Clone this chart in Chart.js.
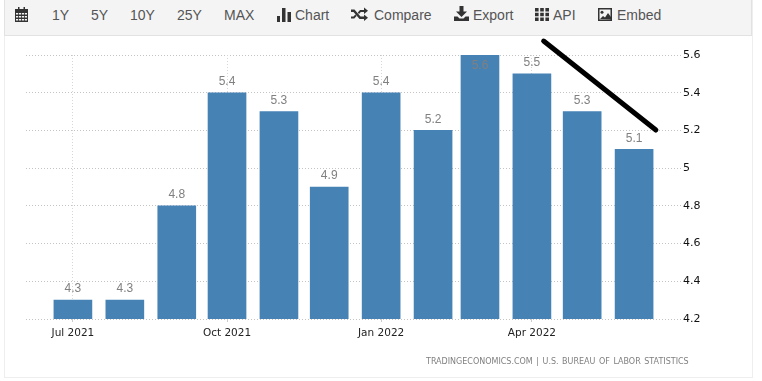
<!DOCTYPE html>
<html><head><meta charset="utf-8">
<script src="https://cdn.jsdelivr.net/npm/chart.js@4"></script>
<style>
html,body{margin:0;padding:0;background:#fff;width:762px;height:381px;overflow:hidden}
#frame{position:absolute;left:4px;top:-2px;width:747px;height:378px;border:1px solid #eee;box-sizing:content-box}
#bar{position:absolute;left:4px;top:0;width:748px;height:36px;background:#f4f4f4;border:1px solid #e2e2e2;border-top:0;box-sizing:border-box}
.t{position:absolute;top:7px;font:14px/16px "Liberation Sans",sans-serif;color:#555;white-space:nowrap}
svg.i{position:absolute;fill:#333}
#c{position:absolute;left:0;top:0}
#src{position:absolute;left:426px;top:356px;font:8px/12px "DejaVu Sans",sans-serif;color:#808080;letter-spacing:0;word-spacing:1px;white-space:nowrap}
</style></head><body>
<div id="frame"></div>
<canvas id="c" width="762" height="381"></canvas>
<div id="bar"></div>
<span class="t" style="left:52px">1Y</span>
<span class="t" style="left:91px">5Y</span>
<span class="t" style="left:130px">10Y</span>
<span class="t" style="left:177px">25Y</span>
<span class="t" style="left:224px">MAX</span>
<span class="t" style="left:295px">Chart</span>
<span class="t" style="left:374px">Compare</span>
<span class="t" style="left:473px">Export</span>
<span class="t" style="left:553px">API</span>
<span class="t" style="left:617px">Embed</span>
<svg class="i" style="left:15px;top:7px" width="13" height="15" viewBox="0 0 13 15"><path d="M0 2h13v13H0z"/><path d="M3 0h1.500v3H3zM8.500 0H10v3H8.500z"/><g fill="#f4f4f4"><path d="M1 6h2.200v1.600H1zM4 6h2.200v1.600H4zM7 6h2.200v1.600H7zM10 6h2v1.600h-2zM1 9h2.200v1.600H1zM4 9h2.200v1.600H4zM7 9h2.200v1.600H7zM10 9h2v1.600h-2zM1 12h2.200v1.600H1zM4 12h2.200v1.600H4zM7 12h2.200v1.600H7zM10 12h2v1.600h-2z"/></g></svg>
<svg class="i" style="left:277px;top:7px" width="14" height="15" viewBox="0 0 14 15"><path d="M0 9h3v6H0zM5 1h3.500v14H5zM10.500 5H14v10h-3.500z"/></svg>
<svg class="i" style="left:351px;top:7px" width="17" height="14" viewBox="0 0 17 14"><path d="M0 2.500h3.500l6 7H13V7.500l4 3.300-4 3.200v-2H8.500l-6-7H0zM0 9.500h2.500l1.800-2 1.300 1.600-2.300 2.500H0zM13 .5l4 3.200-4 3.300v-2H9.800L8 7 6.800 5.500 9 3h4z"/></svg>
<svg class="i" style="left:454px;top:6px" width="15" height="15" viewBox="0 0 15 15"><path d="M5.500 0h4v5.500H13L7.500 11 2 5.500h3.500zM0 10.500h3.500l2 2h4l2-2H15V15H0z"/></svg>
<svg class="i" style="left:535px;top:8px" width="14" height="13" viewBox="0 0 14 13"><path d="M0 0h3.600v3.600H0zM5.200 0h3.600v3.600H5.200zM10.400 0H14v3.600h-3.600zM0 4.700h3.600v3.600H0zM5.200 4.700h3.600v3.600H5.200zM10.400 4.700H14v3.600h-3.600zM0 9.400h3.600V13H0zM5.200 9.400h3.600V13H5.200zM10.400 9.400H14V13h-3.600z"/></svg>
<svg class="i" style="left:598px;top:8px" width="14" height="13" viewBox="0 0 14 13"><path fill-rule="evenodd" d="M0 0h14v13H0zM1.500 1.500v10h11v-10z"/><circle cx="4" cy="4.200" r="1.500"/><path d="M2 11l3-3 2 1.500L10 5l3 4v2.500z"/></svg>
<div id="src">TRADINGECONOMICS.COM | U.S. BUREAU OF LABOR STATISTICS</div>
<script>
const months = ['2021-07-01','2021-08-01','2021-09-01','2021-10-01','2021-11-01','2021-12-01','2022-01-01','2022-02-01','2022-03-01','2022-04-01','2022-05-01','2022-06-01'];
const rates = [4.3,4.3,4.8,5.4,5.3,4.9,5.4,5.2,5.6,5.5,5.3,5.1];
const axisDates = ['2021-07-01','2021-10-01','2022-01-01','2022-04-01'];
const axisLabels = ['Jul 2021','Oct 2021','Jan 2022','Apr 2022'];
const yTicks = [4.2,4.4,4.6,4.8,5,5.2,5.4,5.6];
const xRange = ['2021-06-03','2022-06-29'];
const trendDates = ['2022-04-08','2022-06-14'];
const trendValues = [5.674,5.202];
const t = s => Date.parse(s);

const labelPlugin = {
  id:'barLabels',
  afterDatasetsDraw(chart){
    const ctx = chart.ctx, meta = chart.getDatasetMeta(0), top = chart.chartArea.top;
    ctx.save();
    ctx.font = '12px "Liberation Sans", sans-serif';
    ctx.fillStyle = '#808080';
    ctx.textAlign = 'center';
    ctx.textBaseline = 'middle';
    meta.data.forEach((b,i)=>{
      let y = b.y - 11;
      if (y < top) y = b.y + 11;
      ctx.fillText(rates[i].toFixed(1), b.x, y);
    });
    ctx.restore();
  }
};

new Chart(document.getElementById('c'),{
  type:'bar',
  data:{datasets:[
    {type:'bar',data:months.map((m,i)=>({x:t(m),y:rates[i]})),backgroundColor:'#4682b4',barThickness:38,order:2},
    {type:'line',data:trendDates.map((d,i)=>({x:t(d),y:trendValues[i]})),borderColor:'#000',borderWidth:5,pointRadius:0,borderCapStyle:'round',clip:false,order:1}
  ]},
  options:{
    responsive:false,animation:false,
    layout:{padding:{left:26,top:55,right:0,bottom:0}},
    plugins:{legend:{display:false},tooltip:{enabled:false}},
    scales:{
      x:{type:'linear',offset:false,min:t(xRange[0]),max:t(xRange[1]),
        afterBuildTicks(s){s.ticks=axisDates.map(d=>({value:t(d)}));},
        afterFit(s){s.height=62;},
        border:{display:false,dash:[1,2]},
        grid:{color:'#d6d6d6',offset:false,tickLength:3,tickColor:'#ccc',z:0},
        ticks:{autoSkip:false,maxRotation:0,padding:5,color:'#222',font:{family:'"DejaVu Sans",sans-serif',size:10.5},
          callback(v){const i=axisDates.findIndex(d=>t(d)===v);return i<0?'':axisLabels[i];}}
      },
      y:{position:'right',min:4.2,max:5.6,
        afterBuildTicks(s){s.ticks=yTicks.map(v=>({value:v}));},
        afterFit(s){s.width=81;},
        border:{display:false,dash:[1,2]},
        grid:{color:'#c4c4c4',drawTicks:false},
        ticks:{padding:2,color:'#111',font:{family:'"DejaVu Sans",sans-serif',size:11},callback:v=>String(v)}
      }
    }
  },
  plugins:[labelPlugin]
});
</script>
</body></html>
